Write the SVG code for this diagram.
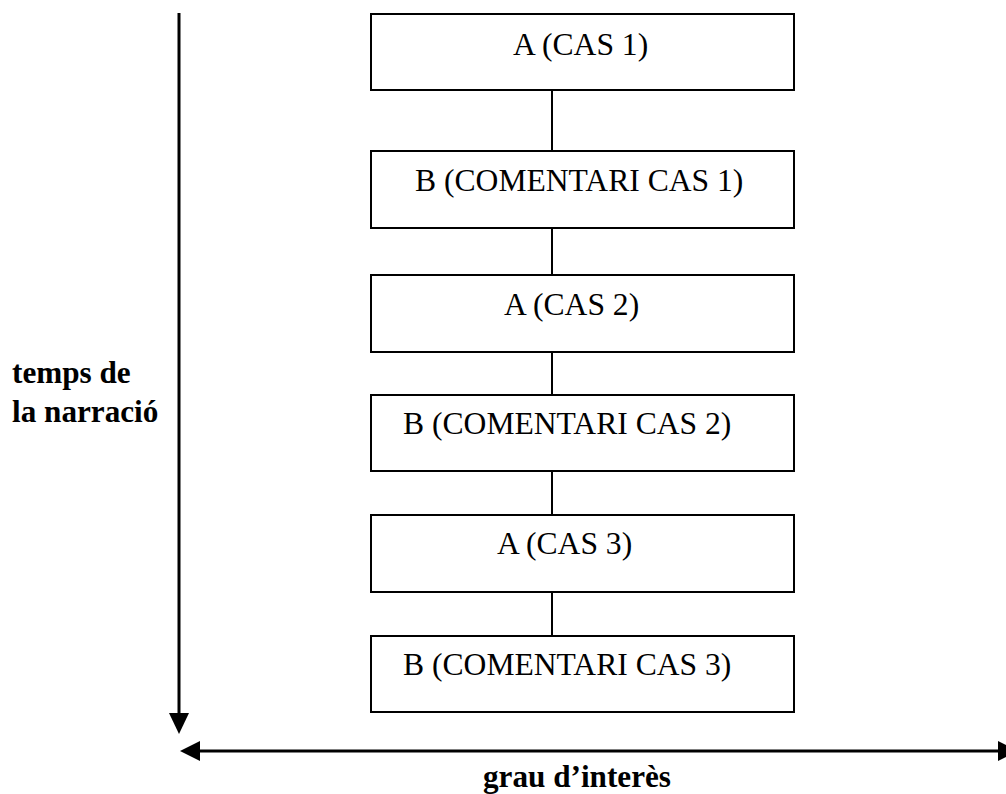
<svg xmlns="http://www.w3.org/2000/svg" width="1006" height="794" viewBox="0 0 1006 794">
<style>
.box{fill:#fff;stroke:#000;stroke-width:2}
.t{font-family:"Liberation Serif","Times New Roman",serif;font-size:31.6px;fill:#000}
.b{font-family:"Liberation Serif","Times New Roman",serif;font-size:31.2px;font-weight:bold;fill:#000}
.ln{stroke:#000;stroke-width:2;fill:none}
.ax{stroke:#000;stroke-width:3;fill:none}
</style>
<rect width="1006" height="794" fill="#fff"/>
<g id="connectors">
<line class="ln" x1="552" y1="90" x2="552" y2="151"/>
<line class="ln" x1="552" y1="228" x2="552" y2="275"/>
<line class="ln" x1="552" y1="352" x2="552" y2="395"/>
<line class="ln" x1="552" y1="471" x2="552" y2="515"/>
<line class="ln" x1="552" y1="592" x2="552" y2="636"/>
</g>
<g id="axes">
<line class="ax" x1="179" y1="13" x2="179" y2="716"/>
<polygon points="169,713 189,713 179,734" fill="#000"/>
<line class="ax" x1="198" y1="751" x2="1000" y2="751"/>
<polygon points="180,751 200,741 200,761" fill="#000"/>
<polygon points="998,741 998,761 1018,751" fill="#000"/>
</g>
<g id="a1"><rect class="box" x="371" y="14" width="423" height="76"/><text class="t" x="513" y="55">A (CAS 1)</text></g>
<g id="b1"><rect class="box" x="371" y="151" width="423" height="77"/><text class="t" x="415" y="191">B (COMENTARI CAS 1)</text></g>
<g id="a2"><rect class="box" x="371" y="275" width="423" height="77"/><text class="t" x="504" y="315">A (CAS 2)</text></g>
<g id="b2"><rect class="box" x="371" y="395" width="423" height="76"/><text class="t" x="403" y="434">B (COMENTARI CAS 2)</text></g>
<g id="a3"><rect class="box" x="371" y="515" width="423" height="77"/><text class="t" x="497" y="554">A (CAS 3)</text></g>
<g id="b3"><rect class="box" x="371" y="636" width="423" height="76"/><text class="t" x="403" y="675">B (COMENTARI CAS 3)</text></g>
<g id="label-time"><text class="b" x="12" y="383">temps de</text><text class="b" x="12" y="422">la narració</text></g>
<g id="label-interest"><text class="b" x="483" y="787">grau d’interès</text></g>
</svg>
